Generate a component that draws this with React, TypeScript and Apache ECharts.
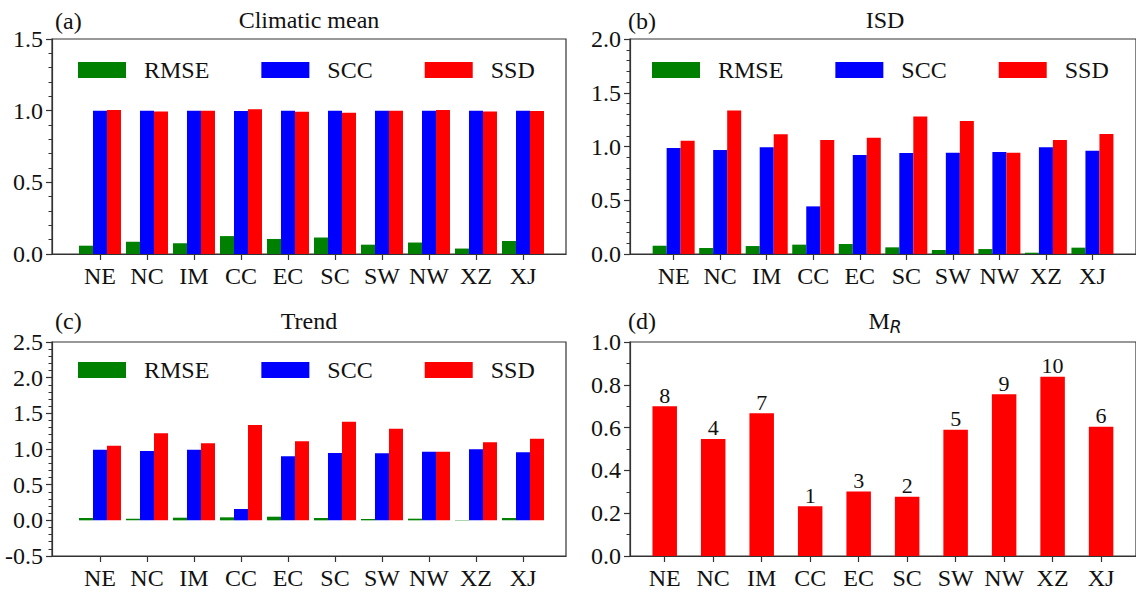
import React, { useEffect, useRef } from "react";
import * as echarts from "echarts";

const categories = ["NE", "NC", "IM", "CC", "EC", "SC", "SW", "NW", "XZ", "XJ"];
const seriesNames = ["RMSE", "SCC", "SSD"];

const meanRMSE = [0.058, 0.085, 0.075, 0.125, 0.105, 0.115, 0.065, 0.08, 0.038, 0.09];
const meanSCC = [0.999, 0.999, 0.999, 0.998, 0.999, 0.999, 0.999, 0.999, 0.999, 0.999];
const meanSSD = [1.005, 0.995, 1.0, 1.01, 0.993, 0.986, 1.0, 1.005, 0.995, 0.997];

const isdRMSE = [0.077, 0.056, 0.074, 0.087, 0.093, 0.062, 0.037, 0.046, 0.012, 0.059];
const isdSCC = [0.986, 0.967, 0.992, 0.443, 0.921, 0.94, 0.943, 0.949, 0.992, 0.961];
const isdSSD = [1.054, 1.336, 1.113, 1.06, 1.082, 1.278, 1.237, 0.943, 1.06, 1.116];

const trendRMSE = [0.033, 0.023, 0.037, 0.042, 0.051, 0.033, 0.019, 0.023, 0.005, 0.033];
const trendSCC = [0.99, 0.972, 0.99, 0.159, 0.897, 0.944, 0.939, 0.963, 0.995, 0.953];
const trendSSD = [1.047, 1.22, 1.079, 1.336, 1.107, 1.383, 1.285, 0.963, 1.093, 1.145];

const mrValues = [0.7, 0.547, 0.667, 0.232, 0.301, 0.277, 0.59, 0.756, 0.838, 0.604];
const mrRanks = [8, 4, 7, 1, 3, 2, 5, 9, 10, 6];

const panelTitles = ["Climatic mean", "ISD", "Trend"];
const panelLetters = ["(a)", "(b)", "(c)", "(d)"];

const FONT = "Liberation Serif";
const COLORS = ["#008000", "#0000ff", "#ff0000"];
const AXIS_COLOR = "#333";
const TEXT_COLOR = "#111";

const tickIdx = categories.map((_, i) => i);

export default function App() {
  const ref = useRef<HTMLDivElement>(null);

  useEffect(() => {
    if (!ref.current) return;
    const chart = echarts.init(ref.current, null, { renderer: "svg" });

    const grids = [
      { left: 52, top: 39, width: 514, height: 215 },
      { left: 630, top: 39, width: 510, height: 215 },
      { left: 52, top: 342, width: 514, height: 214 },
      { left: 630, top: 342, width: 510, height: 214 },
    ].map((g) => ({
      ...g,
      show: true,
      borderColor: AXIS_COLOR,
      borderWidth: 1.2,
      backgroundColor: "transparent",
      containLabel: false,
    }));

    const xRanges = [
      [-1.021, 9.915],
      [-0.938, 9.936],
      [-1.021, 9.915],
      [-0.716, 9.72],
    ];

    const xAxes = xRanges.map((r, i) => ({
      type: "value",
      gridIndex: i,
      min: r[0],
      max: r[1],
      splitLine: { show: false },
      axisLine: { show: true, onZero: false, lineStyle: { color: AXIS_COLOR, width: 1.2 } },
      axisTick: {
        show: true,
        inside: false,
        length: 6,
        customValues: tickIdx,
        lineStyle: { color: AXIS_COLOR, width: 1.2 },
      },
      axisLabel: {
        show: true,
        margin: 10,
        customValues: tickIdx,
        fontSize: 24,
        fontFamily: FONT,
        color: TEXT_COLOR,
        formatter: (v: number) => categories[Math.round(v)] ?? "",
      },
    }));

    const yDefs = [
      { min: 0, max: 1.5, interval: 0.5, minor: 5 },
      { min: 0, max: 2.0, interval: 0.5, minor: 5 },
      { min: -0.5, max: 2.5, interval: 0.5, minor: 5 },
      { min: 0, max: 1.0, interval: 0.2, minor: 2 },
    ];

    const yAxes = yDefs.map((d, i) => ({
      type: "value",
      gridIndex: i,
      min: d.min,
      max: d.max,
      interval: d.interval,
      splitLine: { show: false },
      axisLine: { show: true, onZero: false, lineStyle: { color: AXIS_COLOR, width: 1.2 } },
      axisTick: { show: true, inside: false, length: 6, lineStyle: { color: AXIS_COLOR, width: 1.2 } },
      minorTick: { show: true, splitNumber: d.minor, length: 3.5, lineStyle: { color: AXIS_COLOR, width: 1 } },
      minorSplitLine: { show: false },
      axisLabel: {
        margin: 9,
        fontSize: 24,
        fontFamily: FONT,
        color: TEXT_COLOR,
        formatter: (v: number) => v.toFixed(1),
      },
    }));

    const groups = [
      [meanRMSE, meanSCC, meanSSD],
      [isdRMSE, isdSCC, isdSSD],
      [trendRMSE, trendSCC, trendSSD],
    ];

    const series: any[] = [];
    groups.forEach((grp, gi) => {
      grp.forEach((vals, si) => {
        series.push({
          type: "bar",
          name: seriesNames[si],
          xAxisIndex: gi,
          yAxisIndex: gi,
          barWidth: 14,
          barGap: "0%",
          itemStyle: { color: COLORS[si] },
          data: vals.map((v, k) => [k, v]),
        });
      });
    });
    series.push({
      type: "bar",
      name: "MR",
      xAxisIndex: 3,
      yAxisIndex: 3,
      barWidth: 24.5,
      itemStyle: { color: "#ff0000" },
      label: {
        show: true,
        position: "top",
        distance: 0,
        fontSize: 22,
        fontFamily: FONT,
        color: TEXT_COLOR,
        formatter: (p: any) => String(mrRanks[p.dataIndex]),
      },
      data: mrValues.map((v, k) => [k, v]),
    });

    const legendPos = [
      { left: 78, top: 58 },
      { left: 652, top: 58 },
      { left: 78, top: 358 },
    ];
    const legends = legendPos.map((p) => ({
      ...p,
      padding: 0,
      orient: "horizontal",
      data: seriesNames,
      icon: "rect",
      itemWidth: 48,
      itemHeight: 16,
      itemGap: 52,
      selectedMode: false,
      textStyle: {
        fontSize: 24,
        fontFamily: FONT,
        color: TEXT_COLOR,
        padding: [0, 0, 0, 13],
      },
    }));

    const titleCenters = [
      { x: 309, y: 20 },
      { x: 885, y: 20 },
      { x: 309, y: 321 },
    ];
    const letterPos = [
      { x: 55, y: 21 },
      { x: 628, y: 21 },
      { x: 55, y: 321 },
      { x: 628, y: 321 },
    ];

    const graphics: any[] = [];
    titleCenters.forEach((c, i) => {
      graphics.push({
        type: "text",
        x: c.x,
        y: c.y,
        style: {
          text: panelTitles[i],
          fontSize: 24,
          fontFamily: FONT,
          fill: TEXT_COLOR,
          align: "center",
          verticalAlign: "middle",
        },
      });
    });
    graphics.push({
      type: "text",
      x: 885,
      y: 321,
      style: {
        text: "M{r|R}",
        fontSize: 24,
        fontFamily: FONT,
        fill: TEXT_COLOR,
        align: "center",
        verticalAlign: "middle",
        rich: {
          r: {
            fontSize: 17,
            fontStyle: "italic",
            fontFamily: "DejaVu Sans",
            fill: TEXT_COLOR,
            padding: [12, 0, 0, 0],
          },
        },
      },
    });
    letterPos.forEach((p, i) => {
      graphics.push({
        type: "text",
        x: p.x,
        y: p.y,
        style: {
          text: panelLetters[i],
          fontSize: 24,
          fontFamily: FONT,
          fill: TEXT_COLOR,
          align: "left",
          verticalAlign: "middle",
        },
      });
    });

    chart.setOption({
      animation: false,
      backgroundColor: "#ffffff",
      textStyle: { fontFamily: FONT },
      grid: grids,
      xAxis: xAxes,
      yAxis: yAxes,
      legend: legends,
      series,
      graphic: graphics,
    });

    return () => chart.dispose();
  }, []);

  return (
    <div
      ref={ref}
      style={{ position: "absolute", left: 0, top: 0, width: 1136, height: 592 }}
    />
  );
}
